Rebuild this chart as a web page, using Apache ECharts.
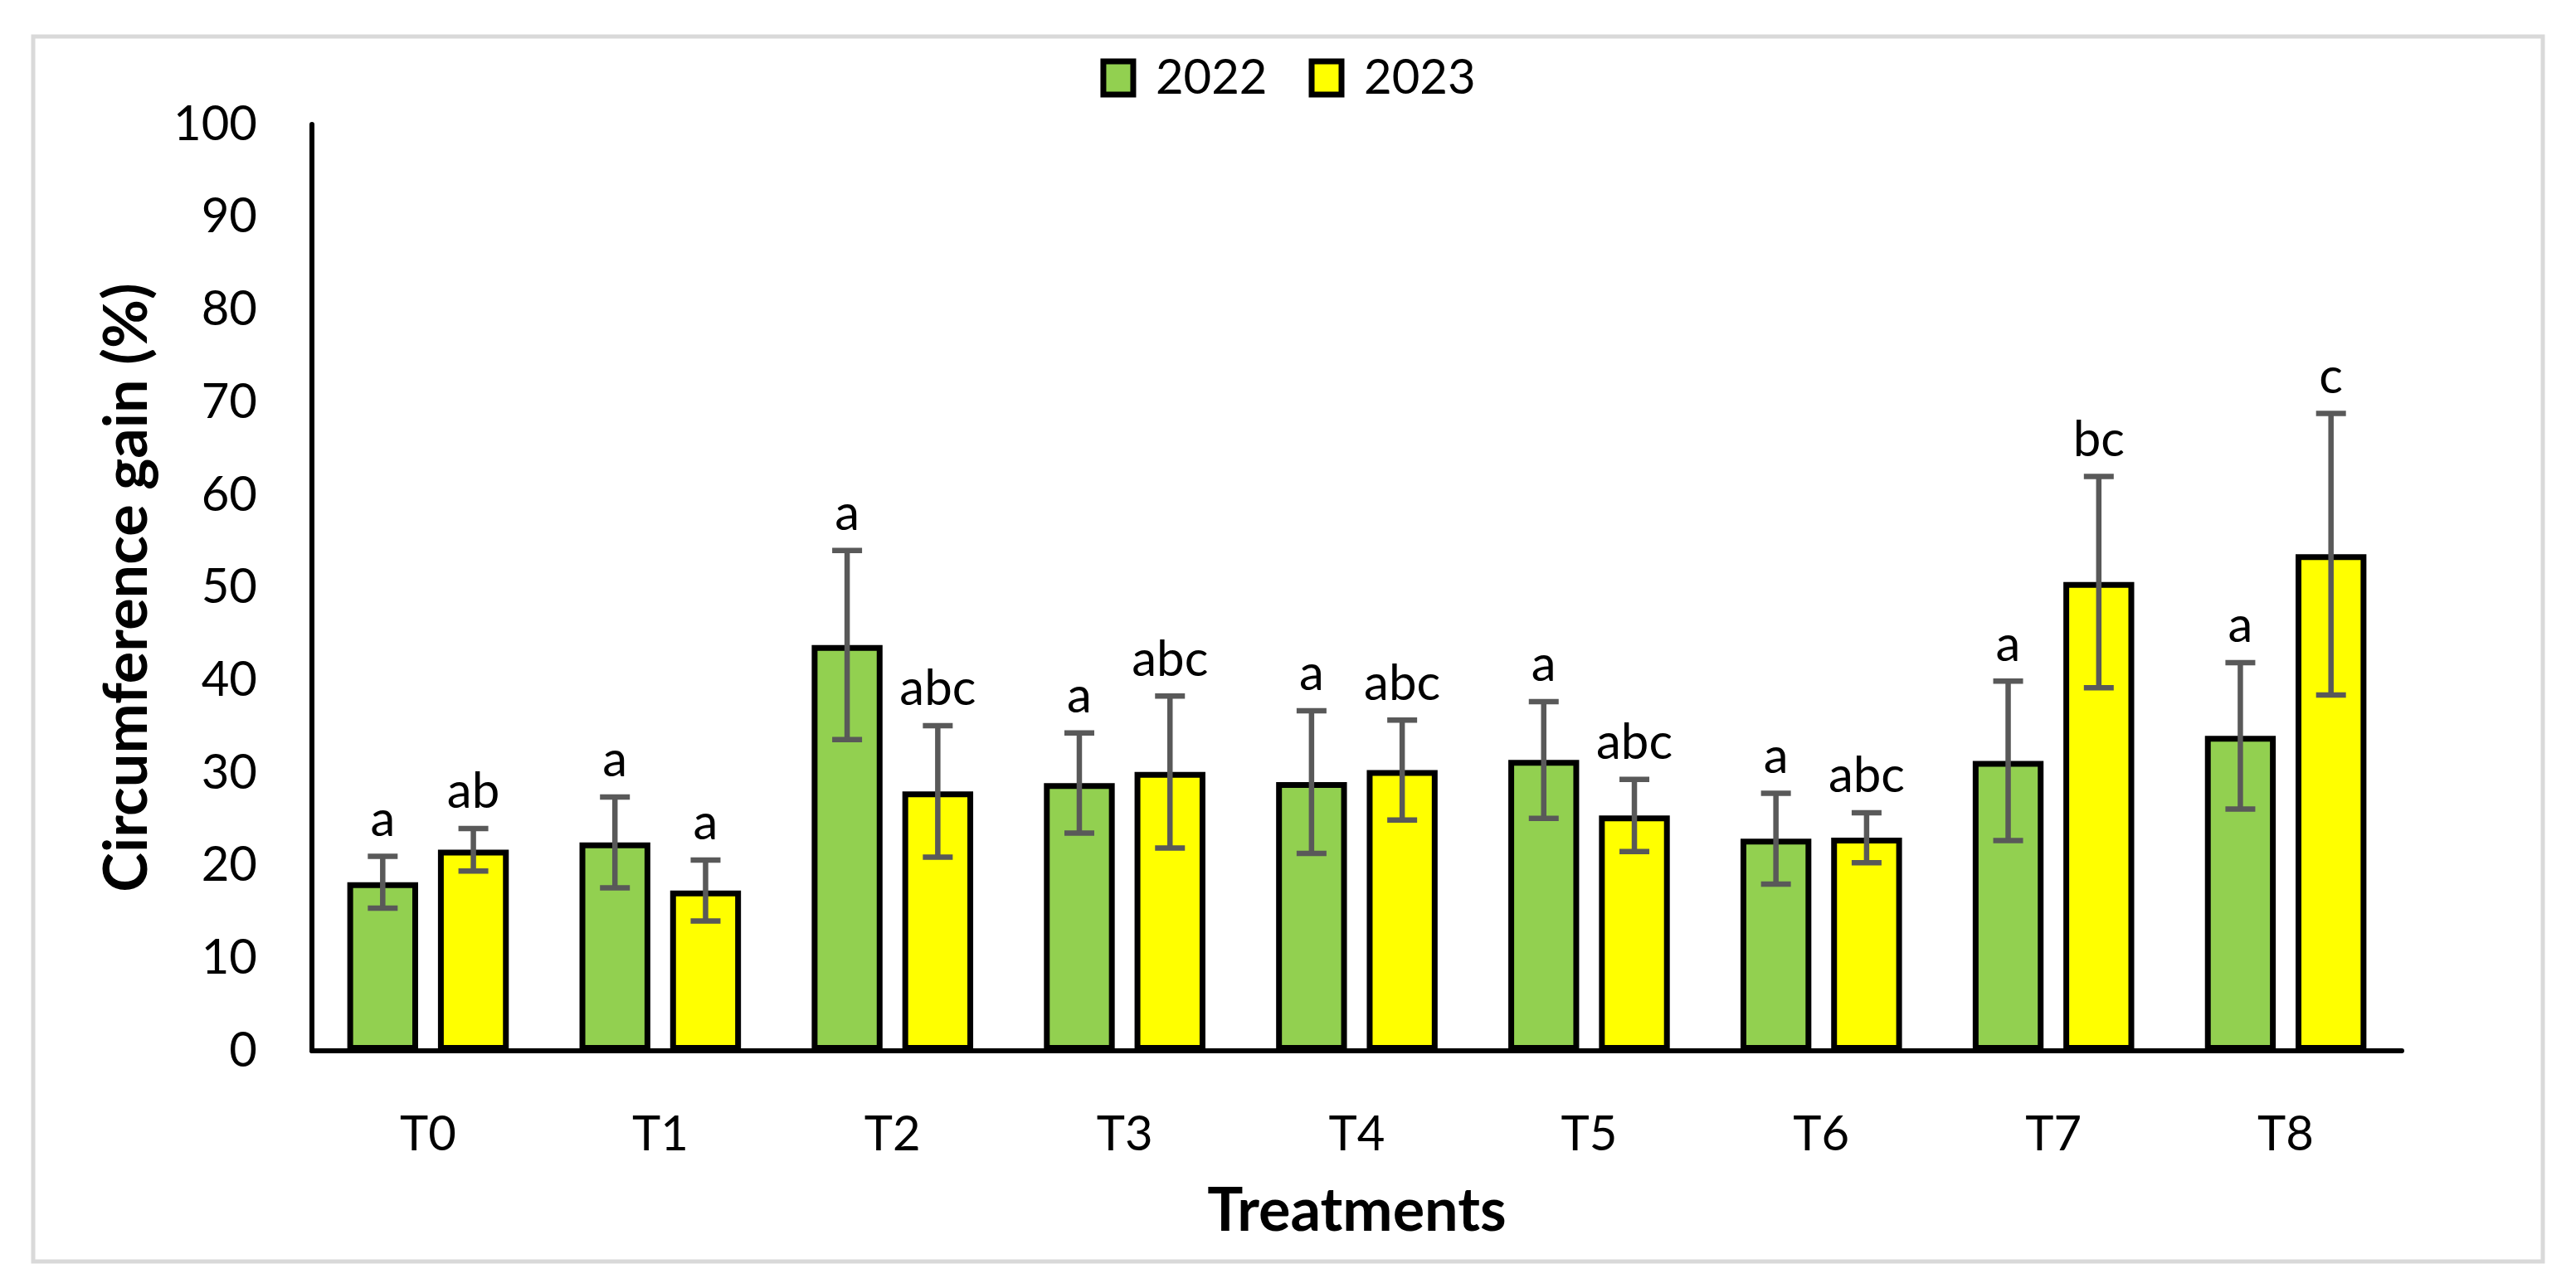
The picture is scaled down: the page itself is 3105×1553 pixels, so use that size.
<!DOCTYPE html>
<html>
<head>
<meta charset="utf-8">
<script src="https://cdn.jsdelivr.net/npm/echarts@6/dist/echarts.min.js"></script>
<style>html,body{margin:0;padding:0;background:#fff}#c{width:3105px;height:1553px}</style>
</head>
<body>
<div id="c"></div>
<script>
const categories = ['T0', 'T1', 'T2', 'T3', 'T4', 'T5', 'T6', 'T7', 'T8'];
const years = ['2022', '2023'];
const mean2022 = [18.2, 22.5, 43.8, 28.9, 29.0, 31.4, 22.9, 31.3, 34.0];
const sd2022 = [2.8, 4.9, 10.2, 5.4, 7.7, 6.3, 4.9, 8.6, 7.9];
const letters2022 = ['a', 'a', 'a', 'a', 'a', 'a', 'a', 'a', 'a'];
const mean2023 = [21.7, 17.3, 28.0, 30.1, 30.3, 25.4, 23.0, 50.6, 53.6];
const sd2023 = [2.3, 3.3, 7.1, 8.2, 5.4, 3.9, 2.7, 11.4, 15.2];
const letters2023 = ['ab', 'a', 'abc', 'abc', 'abc', 'abc', 'abc', 'bc', 'c'];
const yTicks = { min: 0, max: 100, interval: 10 };

const FONT = 'Lato';
const BAR_W = 0.305;
const BAR_GAP = 0.28;

function errSeries(idx, means, sds, letters) {
  return {
    type: 'custom',
    name: 'err' + years[idx],
    z: 10,
    silent: true,
    data: means.map((m, i) => [i, m, sds[i]]),
    renderItem: function (params, api) {
      const i = api.value(0), v = api.value(1), sd = api.value(2);
      const band = api.size([1, 0])[0];
      const off = (idx === 0 ? -1 : 1) * band * BAR_W * (1 + BAR_GAP) / 2;
      const top = api.coord([i, v + sd]);
      const bot = api.coord([i, v - sd]);
      const x = top[0] + off;
      const cap = 18;
      const st = { stroke: '#595959', lineWidth: 6.5 };
      return {
        type: 'group',
        children: [
          { type: 'line', shape: { x1: x, y1: top[1], x2: x, y2: bot[1] }, style: st },
          { type: 'line', shape: { x1: x - cap, y1: top[1], x2: x + cap, y2: top[1] }, style: st },
          { type: 'line', shape: { x1: x - cap, y1: bot[1], x2: x + cap, y2: bot[1] }, style: st },
          { type: 'text', style: { text: letters[i], x: x, y: top[1] - 14,
              align: 'center', verticalAlign: 'bottom', textAlign: 'center', textVerticalAlign: 'bottom',
              font: '60px ' + FONT, fill: '#000' } }
        ]
      };
    }
  };
}

const chart = echarts.init(document.getElementById('c'));
chart.setOption({
  backgroundColor: '#fff',
  animation: false,
  graphic: [{
    type: 'rect', silent: true, z: -1,
    shape: { x: 40, y: 44, width: 3025, height: 1477 },
    style: { fill: null, stroke: '#d9d9d9', lineWidth: 5 }
  }],
  legend: {
    data: years,
    top: 60,
    left: 'center',
    itemWidth: 36,
    itemHeight: 40,
    itemGap: 50,
    icon: 'rect',
    itemStyle: { borderColor: '#000', borderWidth: 7 },
    textStyle: { fontFamily: FONT, fontSize: 58, color: '#000', padding: [0, 0, 0, 22] }
  },
  grid: { left: 376, right: 210, top: 150, bottom: 286 },
  xAxis: {
    type: 'category',
    data: categories,
    axisLine: { show: true, lineStyle: { color: '#000', width: 6 } },
    axisTick: { show: false },
    axisLabel: { fontFamily: FONT, fontSize: 58, color: '#000', margin: 72 },
    name: 'Treatments',
    nameLocation: 'middle',
    nameGap: 158,
    nameTextStyle: { fontFamily: FONT, fontSize: 72, fontWeight: 'bold', color: '#000' }
  },
  yAxis: {
    type: 'value',
    min: yTicks.min, max: yTicks.max, interval: yTicks.interval,
    axisLine: { show: true, lineStyle: { color: '#000', width: 6 } },
    axisTick: { show: false },
    splitLine: { show: false },
    axisLabel: { fontFamily: FONT, fontSize: 58, color: '#000', margin: 66 },
    name: 'Circumference gain (%)',
    nameLocation: 'middle',
    nameGap: 186,
    nameRotate: 90,
    nameTextStyle: { fontFamily: FONT, fontSize: 72, fontWeight: 'bold', color: '#000' }
  },
  series: [
    { type: 'bar', name: years[0], data: mean2022, barWidth: (BAR_W * 100) + '%', barGap: (BAR_GAP * 100) + '%',
      itemStyle: { color: '#92D050', borderColor: '#000', borderWidth: 7 } },
    { type: 'bar', name: years[1], data: mean2023, barWidth: (BAR_W * 100) + '%', barGap: (BAR_GAP * 100) + '%',
      itemStyle: { color: '#FFFF00', borderColor: '#000', borderWidth: 7 } },
    errSeries(0, mean2022, sd2022, letters2022),
    errSeries(1, mean2023, sd2023, letters2023)
  ]
});
</script>
</body>
</html>
